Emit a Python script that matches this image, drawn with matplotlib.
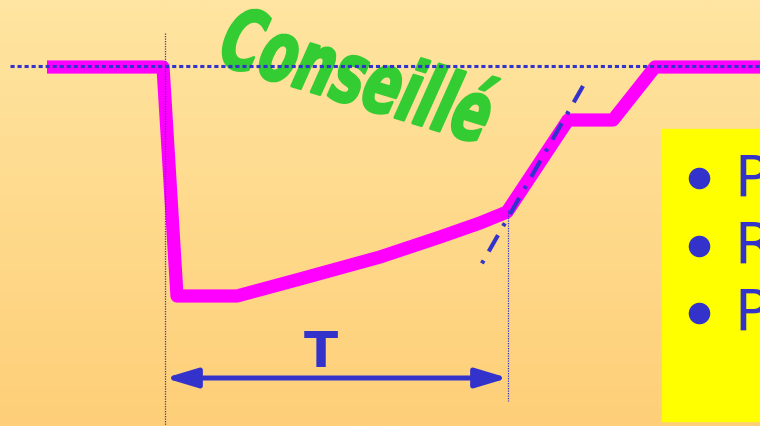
import numpy as np
import matplotlib
matplotlib.use('Agg')
import matplotlib.pyplot as plt
from matplotlib.colors import LinearSegmentedColormap
from matplotlib.patches import Rectangle
from matplotlib.patheffects import AbstractPathEffect
from matplotlib.transforms import Affine2D

# canvas coordinates (pixels, y pointing down)
W, H = 760, 426

# level curve (magenta)
curve_x = [47, 163, 177, 237, 300, 380, 440, 480, 507, 568, 613, 655, 770]
curve_y = [67, 67, 296, 296, 279, 257, 237, 223, 212, 120, 120, 67, 67]

# reference level (dotted)
ref_y = 66
ref_x = [10, 760]

# tangent at the end of the recovery
tangent_x = [583, 481]
tangent_y = [86, 265]

# vertical markers and duration arrow
mark_x = [165, 508]
mark_top = [33, 210]
mark_bottom = [426, 401]
arrow_y = 378

# list in the yellow box
items = ['P', 'R', 'P']
item_y = [197, 264, 331]
bullet_y = [178, 246, 313]

BLUE = '#3333cc'
GREEN = '#33cc33'


class Stretch(AbstractPathEffect):
    # squeeze/stretch glyphs in the text's own frame and fatten the strokes
    def __init__(self, sx, sy, fatten=0.0):
        super().__init__()
        self.sx = sx
        self.sy = sy
        self.fatten = fatten

    def draw_path(self, renderer, gc, tpath, affine, rgbFace=None):
        tr = Affine2D().scale(self.sx, self.sy) + affine
        if self.fatten > 0:
            gc0 = renderer.new_gc()
            gc0.copy_properties(gc)
            gc0.set_linewidth(self.fatten)
            gc0.set_foreground(rgbFace)
            gc0.set_joinstyle('round')
            renderer.draw_path(gc0, tpath, tr, rgbFace)
            gc0.restore()
        else:
            renderer.draw_path(gc, tpath, tr, rgbFace)


def draw():
    fig = plt.figure(figsize=(W / 100, H / 100), dpi=100)
    ax = fig.add_axes([0, 0, 1, 1])
    ax.set_xlim(0, W)
    ax.set_ylim(H, 0)
    ax.axis('off')

    # background gradient
    cmap = LinearSegmentedColormap.from_list('bg', ['#ffe5a1', '#fecf78'])
    grad = np.linspace(0, 1, 256).reshape(-1, 1)
    ax.imshow(grad, cmap=cmap, extent=[0, W, H, 0], aspect='auto', zorder=0)

    # yellow box with the list
    ax.add_patch(Rectangle((662, 129), 120, 292, color='#ffff00', zorder=1))
    for lab, yb, yt in zip(items, bullet_y, item_y):
        ax.plot(699, yb, 'o', ms=14.5, color=BLUE, zorder=2)
        ax.text(734, yt, lab, fontsize=41, color=BLUE, va='baseline',
                ha='left', family='DejaVu Sans', zorder=2)

    # magenta curve
    ax.plot(curve_x, curve_y, color='#ff00ff', lw=9.5,
            solid_joinstyle='round', solid_capstyle='butt', zorder=2)

    # title word
    t = ax.text(216, 63, 'Conseillé', fontsize=43, color=GREEN,
                family='DejaVu Sans', weight='bold', style='italic', rotation=-17,
                ha='left', va='baseline', rotation_mode='anchor', zorder=3)
    t.set_path_effects([Stretch(0.91, 1.42, fatten=1.8)])

    # reference level
    ax.plot(ref_x, [ref_y, ref_y], color=BLUE, lw=2.2,
            ls=(0, (1.35, 0.95)), zorder=4)

    # tangent
    ax.plot(tangent_x, tangent_y, color=BLUE, lw=3,
            ls=(0, (4.5, 2.5, 0.8, 2.5)), zorder=4)

    # vertical markers
    for x, y0, y1 in zip(mark_x, mark_top, mark_bottom):
        ax.plot([x, x], [y0, y1], color=BLUE, lw=0.9, ls=(0, (1, 1)), zorder=4)

    # duration arrow and label
    ax.annotate('', xy=(mark_x[0], arrow_y), xytext=(mark_x[1], arrow_y),
                arrowprops=dict(arrowstyle='<|-|>,head_length=0.8,head_width=0.24',
                                mutation_scale=24, color=BLUE, lw=3.6,
                                shrinkA=0, shrinkB=0), zorder=4)
    ax.text(321, 367, 'T', fontsize=36, color=BLUE, weight='bold',
            ha='center', va='baseline', family='DejaVu Sans', zorder=4)

    fig.savefig('out.png', dpi=100)
    plt.close(fig)


if __name__ == '__main__':
    draw()
